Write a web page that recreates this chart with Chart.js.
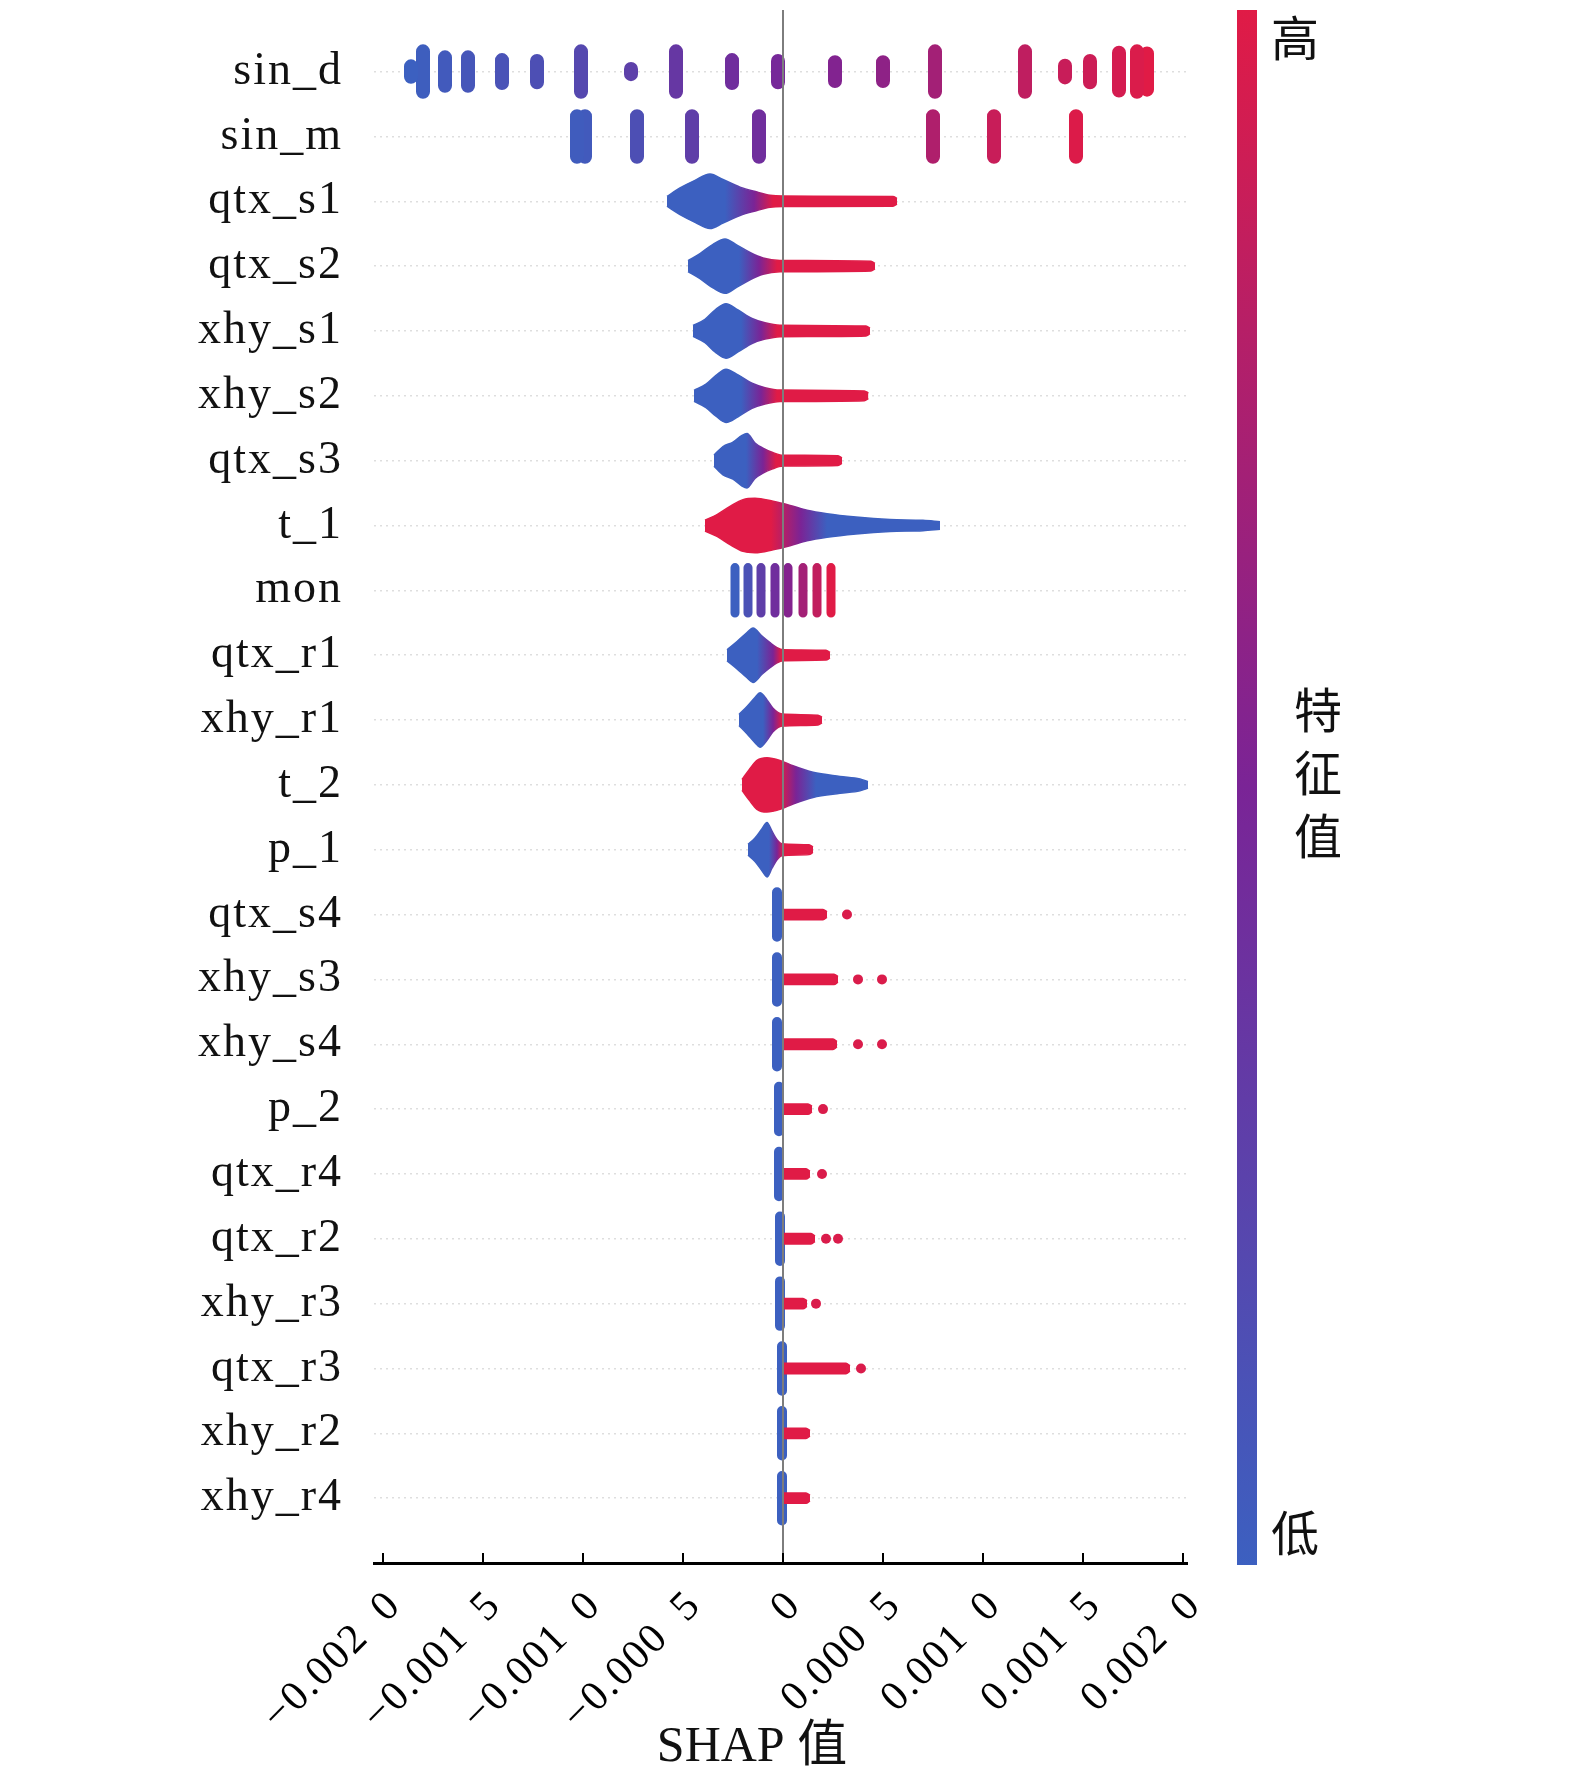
<!DOCTYPE html>
<html>
<head>
<meta charset="utf-8">
<title>SHAP summary</title>
<script src="https://cdn.jsdelivr.net/npm/chart.js@4.4.1/dist/chart.umd.min.js"></script>
<style>
  html, body { margin: 0; padding: 0; background: #fff; }
  canvas { display: block; }
</style>
</head>
<body>
<canvas id="shapChart" width="1575" height="1788"></canvas>
<script>
// ============================================
// SHAP summary (beeswarm)
// ============================================

// feature order, top to bottom
const features = ['sin_d', 'sin_m', 'qtx_s1', 'qtx_s2', 'xhy_s1', 'xhy_s2', 'qtx_s3', 't_1', 'mon',
    'qtx_r1', 'xhy_r1', 't_2', 'p_1', 'qtx_s4', 'xhy_s3', 'xhy_s4', 'p_2', 'qtx_r4', 'qtx_r2',
    'xhy_r3', 'qtx_r3', 'xhy_r2', 'xhy_r4'];

const xTickValues = [-0.002, -0.0015, -0.001, -0.0005, 0, 0.0005, 0.001, 0.0015, 0.002];
const xTickLabels = ['\u22120.002\u20020', '\u22120.001\u20025', '\u22120.001\u20020', '\u22120.000\u20025', '0',
    '0.000\u20025', '0.001\u20020', '0.001\u20025', '0.002\u20020'];

// discrete clusters: [SHAP value, relative density, feature value 0..1]
const sin_d = [[-0.00186, 0.45, 0.0], [-0.0018, 1.0, 0.02], [-0.00169, 0.78, 0.05], [-0.001575, 0.78, 0.08],
    [-0.001405, 0.68, 0.11], [-0.00123, 0.65, 0.14], [-0.00101, 1.0, 0.2], [-0.00076, 0.35, 0.27],
    [-0.000535, 1.0, 0.34], [-0.000255, 0.68, 0.42], [-0.000025, 0.65, 0.47], [0.00026, 0.6, 0.54],
    [0.0005, 0.6, 0.6], [0.00076, 1.0, 0.7], [0.00121, 1.0, 0.84], [0.00141, 0.47, 0.88],
    [0.001535, 0.65, 0.9], [0.00168, 0.95, 0.94], [0.00177, 1.0, 0.97], [0.00182, 0.92, 1.0]];

const sin_m = [[-0.00103, 1.0, 0.03], [-0.00099, 1.0, 0.05], [-0.00073, 1.0, 0.14], [-0.000455, 1.0, 0.28],
    [-0.00012, 1.0, 0.42], [0.00075, 1.0, 0.76], [0.001055, 1.0, 0.88], [0.001465, 1.0, 0.98]];

const mon = [[-0.00024, 1.0, 0.0], [-0.000175, 1.0, 0.12], [-0.00011, 1.0, 0.28], [-0.00004, 1.0, 0.42],
    [0.000025, 1.0, 0.55], [0.0001, 1.0, 0.7], [0.00017, 1.0, 0.85], [0.00024, 1.0, 1.0]];

// continuous swarms: [SHAP value, relative density]
const qtx_s1 = [[-0.00058, 0.18], [-0.000515, 0.49], [-0.00044, 0.77], [-0.000365, 1.0], [-0.0003, 0.8],
    [-0.000215, 0.52], [-0.00013, 0.34], [-0.000065, 0.22], [0, 0.19], [0.00055, 0.18], [0.00057, 0.1]];
const qtx_s2 = [[-0.000475, 0.2], [-0.000415, 0.46], [-0.00035, 0.8], [-0.00029, 1.0], [-0.00023, 0.77],
    [-0.000165, 0.5], [-0.0001, 0.3], [-0.000015, 0.21], [0.00044, 0.18], [0.00046, 0.1]];
const xhy_s1 = [[-0.00045, 0.2], [-0.00039, 0.43], [-0.00034, 0.77], [-0.000285, 1.0], [-0.000225, 0.77],
    [-0.000155, 0.46], [-0.00009, 0.3], [-0.000015, 0.21], [0.000415, 0.18], [0.000435, 0.1]];
const xhy_s2 = [[-0.000445, 0.2], [-0.000385, 0.43], [-0.000335, 0.75], [-0.000285, 0.98], [-0.000225, 0.77],
    [-0.000155, 0.46], [-0.00009, 0.3], [-0.000015, 0.21], [0.000407, 0.18], [0.000427, 0.1]];
const qtx_s3 = [[-0.000345, 0.2], [-0.0003, 0.52], [-0.00025, 0.68], [-0.000205, 0.93], [-0.00018, 1.0],
    [-0.00014, 0.65], [-0.0001, 0.46], [-0.000055, 0.31], [0, 0.2], [0.000275, 0.18], [0.000295, 0.1]];
const t_1 = [[-0.00039, 0.2], [-0.00033, 0.4], [-0.000265, 0.7], [-0.0002, 0.95], [-0.00014, 1.0],
    [-0.00005, 0.89], [0.000035, 0.74], [0.00012, 0.56], [0.00022, 0.43], [0.000365, 0.31],
    [0.000535, 0.22], [0.0007, 0.19], [0.000785, 0.14]];
const qtx_r1 = [[-0.00028, 0.2], [-0.00023, 0.5], [-0.00018, 0.83], [-0.00015, 1.0], [-0.000105, 0.7],
    [-0.000065, 0.46], [-0.00003, 0.28], [0, 0.2], [0.000215, 0.18], [0.000235, 0.1]];
const xhy_r1 = [[-0.00022, 0.2], [-0.00018, 0.5], [-0.00014, 0.83], [-0.000115, 1.0], [-0.00008, 0.74],
    [-0.00005, 0.43], [-0.000005, 0.22], [0.000175, 0.18], [0.000195, 0.1]];
const t_2 = [[-0.000205, 0.2], [-0.00017, 0.55], [-0.00013, 0.9], [-0.00008, 1.0], [-0.000015, 0.9],
    [0.00005, 0.7], [0.00015, 0.46], [0.000285, 0.31], [0.000385, 0.22], [0.000425, 0.12]];
const p_1 = [[-0.000175, 0.2], [-0.00014, 0.43], [-0.000105, 0.77], [-0.00008, 1.0], [-0.000055, 0.68],
    [-0.00003, 0.37], [-0.000005, 0.22], [0.00013, 0.18], [0.00015, 0.1]];

// colour along each swarm: [SHAP value, feature value 0..1]
const qtx_s1_col = [[-0.00029, 0], [-0.000145, 0.5], [-0.00005, 1]];
const qtx_s2_col = [[-0.00022, 0], [-0.00012, 0.5], [-0.00003, 1]];
const xhy_s1_col = [[-0.00021, 0], [-0.00011, 0.5], [-0.00003, 1]];
const xhy_s2_col = [[-0.00021, 0], [-0.00011, 0.5], [-0.00003, 1]];
const qtx_s3_col = [[-0.000185, 0], [-0.0001, 0.5], [-0.000035, 1]];
const t_1_col = [[-0.00006, 1], [0.00009, 0.5], [0.00022, 0]];
const qtx_r1_col = [[-0.00013, 0], [-0.00005, 0.5], [-0.00001, 1]];
const xhy_r1_col = [[-0.0001, 0], [-0.00005, 0.5], [-0.000005, 1]];
const t_2_col = [[-0.000015, 1], [0.000065, 0.5], [0.000165, 0]];
const p_1_col = [[-0.00007, 0], [-0.00003, 0.5], [0, 1]];

// lower features: low values packed near zero, high values as a short tail + stray points
const lowRows = ['qtx_s4', 'xhy_s3', 'xhy_s4', 'p_2', 'qtx_r4', 'qtx_r2', 'xhy_r3', 'qtx_r3', 'xhy_r2', 'xhy_r4'];
const lowBlue = [-0.00003, -0.00003, -0.00003, -0.00002, -0.00002, -0.000015, -0.000015, -0.000005, -0.000005, -0.000005];
const lowTailEnd = [0.00022, 0.000275, 0.00027, 0.000145, 0.000135, 0.00016, 0.00012, 0.000335, 0.000135, 0.000135];
const lowDots = [[0.00032], [0.000375, 0.000495], [0.000375, 0.000495], [0.0002], [0.000195],
    [0.000215, 0.000275], [0.000165], [0.00039], [], []];

// ---------- helpers ----------
const C_LOW = [60, 96, 192];
const C_MID = [122, 36, 150];
const C_HIGH = [224, 27, 70];
const ROW_PX = 64.84;   // pixels per feature row
const HALF = 0.42;      // half row height for full density (row units)
const SERIF = '"Liberation Serif", "Times New Roman", serif';
const CJK = '"Noto Sans CJK SC", sans-serif';

function featureColor(v) {
    const a = v < 0.5 ? C_LOW : C_MID;
    const b = v < 0.5 ? C_MID : C_HIGH;
    const t = v < 0.5 ? v / 0.5 : (v - 0.5) / 0.5;
    const c = a.map((ch, i) => Math.round(ch + (b[i] - ch) * t));
    return `rgb(${c[0]}, ${c[1]}, ${c[2]})`;
}

function gradientFill(stops) {
    if (stops.length === 1) return featureColor(stops[0][1]);
    return function (ctx) {
        const chart = ctx.chart;
        if (!chart.chartArea) return featureColor(stops[0][1]);
        const xs = chart.scales.x;
        const p0 = xs.getPixelForValue(stops[0][0]);
        const p1 = xs.getPixelForValue(stops[stops.length - 1][0]);
        const g = chart.ctx.createLinearGradient(p0, 0, p1, 0);
        stops.forEach(([s, v]) => g.addColorStop((xs.getPixelForValue(s) - p0) / (p1 - p0), featureColor(v)));
        return g;
    };
}

const datasets = [];

function addSwarm(name, profile, stops) {
    const r = features.indexOf(name);
    const col = gradientFill(stops);
    datasets.push({
        data: profile.map(([s, d]) => ({ x: s, y: r - d * HALF })),
        fill: '+1', backgroundColor: col, borderColor: col, borderWidth: 1.5,
        pointRadius: 0, cubicInterpolationMode: 'monotone'
    });
    datasets.push({
        data: profile.map(([s, d]) => ({ x: s, y: r + d * HALF })),
        fill: false, borderColor: col, borderWidth: 1.5,
        pointRadius: 0, cubicInterpolationMode: 'monotone'
    });
}

function addCluster(name, [s, d, v], w) {
    const r = features.indexOf(name);
    const h = Math.max(0.01, d * HALF - (w / 2) / ROW_PX);
    datasets.push({
        data: [{ x: s, y: r - h }, { x: s, y: r + h }],
        borderColor: featureColor(v), borderWidth: w, borderCapStyle: 'round',
        pointRadius: 0, fill: false
    });
}

// discrete features
sin_d.forEach(c => addCluster('sin_d', c, 14));
sin_m.forEach(c => addCluster('sin_m', c, 14));
mon.forEach(c => addCluster('mon', c, 9));

// continuous swarms
[['qtx_s1', qtx_s1, qtx_s1_col], ['qtx_s2', qtx_s2, qtx_s2_col], ['xhy_s1', xhy_s1, xhy_s1_col],
 ['xhy_s2', xhy_s2, xhy_s2_col], ['qtx_s3', qtx_s3, qtx_s3_col], ['t_1', t_1, t_1_col],
 ['qtx_r1', qtx_r1, qtx_r1_col], ['xhy_r1', xhy_r1, xhy_r1_col], ['t_2', t_2, t_2_col],
 ['p_1', p_1, p_1_col]].forEach(([n, p, c]) => addSwarm(n, p, c));

// lower features
const strayPoints = [];
lowRows.forEach((name, i) => {
    const end = lowTailEnd[i];
    addSwarm(name, [[0, 0.19], [end - 0.00002, 0.19], [end, 0.1]], [[0, 1]]);
    addCluster(name, [lowBlue[i], 1.0, 0.0], 10);
    lowDots[i].forEach(s => strayPoints.push({ x: s, y: features.indexOf(name) }));
});
datasets.push({
    data: strayPoints, showLine: false, pointRadius: 5, pointBorderWidth: 0,
    pointBackgroundColor: featureColor(0.97)
});

// ---------- decorations: zero line, inward ticks, colour bar, labels ----------
const decorPlugin = {
    id: 'decor',
    beforeDraw(chart) {
        chart.ctx.letterSpacing = '2px';
    },
    afterDatasetsDraw(chart) {
        const { ctx, chartArea } = chart;
        const xs = chart.scales.x;
        ctx.save();
        ctx.strokeStyle = '#7d7d7d';
        ctx.lineWidth = 2;
        const x0 = xs.getPixelForValue(0);
        ctx.beginPath();
        ctx.moveTo(x0, chartArea.top);
        ctx.lineTo(x0, chartArea.bottom);
        ctx.stroke();
        ctx.strokeStyle = '#000';
        ctx.lineWidth = 2;
        xTickValues.forEach(v => {
            const px = xs.getPixelForValue(v);
            ctx.beginPath();
            ctx.moveTo(px, chartArea.bottom);
            ctx.lineTo(px, chartArea.bottom - 10);
            ctx.stroke();
        });
        ctx.restore();
    },
    afterDraw(chart) {
        const { ctx, chartArea } = chart;
        ctx.save();
        ctx.letterSpacing = '0px';
        // colour bar
        const top = chartArea.top, bottom = chartArea.bottom + 2;
        const g = ctx.createLinearGradient(0, bottom, 0, top);
        for (let k = 0; k <= 10; k++) g.addColorStop(k / 10, featureColor(k / 10));
        ctx.fillStyle = g;
        ctx.fillRect(1237, top, 20, bottom - top);
        // labels
        ctx.fillStyle = '#111';
        ctx.font = `48px ${CJK}`;
        ctx.textBaseline = 'middle';
        ctx.textAlign = 'left';
        ctx.fillText('高', 1271, 38);
        ctx.fillText('低', 1271, 1533);
        ctx.textAlign = 'center';
        ['特', '征', '值'].forEach((ch, i) => ctx.fillText(ch, 1318, 710 + i * 63));
        // x axis title
        ctx.font = `50px "Liberation Serif", ${CJK}`;
        ctx.fillText('SHAP 值', 752, 1748);
        ctx.restore();
    }
};

const shapChart = new Chart(document.getElementById('shapChart'), {
    type: 'line',
    data: { datasets },
    options: {
        responsive: false,
        devicePixelRatio: 1,
        animation: false,
        events: [],
        layout: { padding: { top: 10, right: 388, left: 0, bottom: 0 } },
        plugins: { legend: { display: false }, tooltip: { enabled: false } },
        scales: {
            x: {
                type: 'linear',
                min: -0.002045,
                max: 0.00202,
                afterBuildTicks: scale => { scale.ticks = xTickValues.map(v => ({ value: v })); },
                afterFit: scale => {
                    scale.height = 225;
                    scale.paddingLeft = 0;
                    scale.paddingRight = 0;
                },
                grid: { display: false, drawTicks: false },
                border: { display: true, color: '#000', width: 3 },
                ticks: {
                    autoSkip: false,
                    minRotation: 45,
                    maxRotation: 45,
                    padding: 18,
                    labelOffset: 12,
                    color: '#000',
                    font: { family: SERIF, size: 42 },
                    callback: v => xTickLabels[xTickValues.indexOf(v)]
                }
            },
            y: {
                type: 'linear',
                reverse: true,
                min: -0.95,
                max: 23.0,
                afterBuildTicks: scale => { scale.ticks = features.map((_, i) => ({ value: i })); },
                afterFit: scale => {
                    scale.width = 374;
                    scale.paddingTop = 0;
                    scale.paddingBottom = 0;
                },
                grid: { color: 'rgba(0, 0, 0, 0.13)', lineWidth: 1.5, drawTicks: false },
                border: { display: false, dash: [2, 4] },
                ticks: {
                    autoSkip: false,
                    padding: 31,
                    color: '#111',
                    font: { family: SERIF, size: 46 },
                    callback: v => features[v]
                }
            }
        }
    },
    plugins: [decorPlugin]
});
</script>
</body>
</html>
